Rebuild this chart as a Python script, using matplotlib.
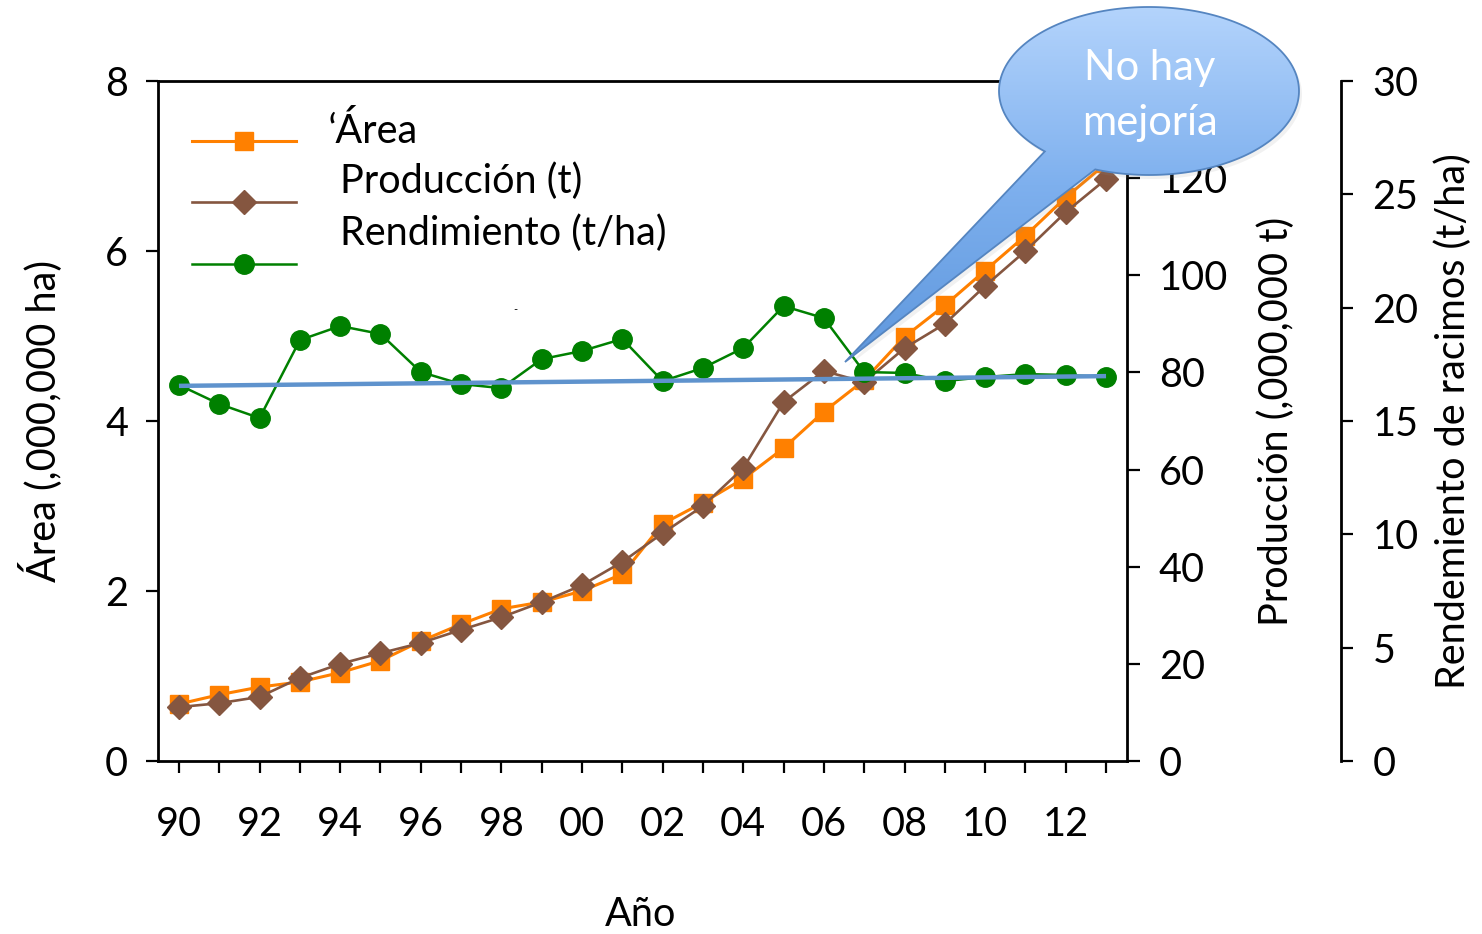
import numpy as np
import matplotlib
matplotlib.use("Agg")
import matplotlib.pyplot as plt
from matplotlib.lines import Line2D
from matplotlib.patches import Polygon
from matplotlib.colors import LinearSegmentedColormap

plt.rcParams['font.family'] = ['Lato', 'DejaVu Sans']

# data (1990-2013)
years = ['90', '91', '92', '93', '94', '95', '96', '97', '98', '99', '00', '01',
         '02', '03', '04', '05', '06', '07', '08', '09', '10', '11', '12', '13']
area = [0.67, 0.78, 0.87, 0.93, 1.04, 1.18, 1.41, 1.61, 1.79, 1.87, 2.00, 2.20,
        2.79, 3.04, 3.32, 3.68, 4.11, 4.48, 4.99, 5.36, 5.77, 6.18, 6.63, 7.03]
production = [11.1, 11.9, 13.2, 17.1, 20.0, 22.2, 24.3, 27.0, 29.6, 32.7, 36.2, 41.0,
              46.9, 52.5, 60.3, 73.9, 80.3, 78.0, 85.0, 90.0, 97.8, 105.0, 113.0, 119.8]
rendimiento = [16.59, 15.75, 15.13, 18.57, 19.19, 18.84, 17.16, 16.63, 16.45, 17.73, 18.09, 18.62,
               16.76, 17.34, 18.22, 20.07, 19.54, 17.16, 17.12, 16.76, 16.94, 17.07, 17.03, 16.94]
trend = [16.55, 16.98]  # trend line, first and last year
prod_ticks = [0, 20, 40, 60, 80, 100, 120, 140]
prod_labels = ['0', '20', '40', '60', '80', '100', '120', '']  # 140 sits under the bubble

W, H = 1482, 934
FS = 28.5
c_area, c_prod, c_rend, c_trend = '#FF8000', '#855640', '#008000', '#5F93CD'

fig = plt.figure(figsize=(W / 100, H / 100), dpi=100)
ax = fig.add_axes([158 / W, 1 - 761 / H, 969 / W, 680 / H])
ax2 = ax.twinx()
ax3 = ax.twinx()
ax3.spines['right'].set_position(('axes', (1341 - 158) / 969))

x = np.arange(len(years))
ax.plot(x, area, color=c_area, lw=2.2, marker='s', ms=13, mec=c_area)
ax2.plot(x, production, color=c_prod, lw=1.9, marker='D', ms=12.5, mec=c_prod)
ax3.plot(x, rendimiento, color=c_rend, lw=1.8, marker='o', ms=14, mec=c_rend)
ax3.plot([x[0], x[-1]], trend, color=c_trend, lw=3.2, solid_capstyle='butt')

ax.set_xlim(-0.52, len(years) - 0.48)
ax.set_ylim(0, 8)
ax2.set_ylim(0, 140)
ax3.set_ylim(0, 30)
ax.set_yticks(np.arange(0, 9, 2))
ax2.set_yticks(prod_ticks)
ax2.set_yticklabels(prod_labels)
ax3.set_yticks(np.arange(0, 31, 5))
ax.set_xticks(x)
ax.set_xticklabels([y if i % 2 == 0 else '' for i, y in enumerate(years)])

for a in (ax, ax2, ax3):
    for s in a.spines.values():
        s.set_linewidth(2)
for a in (ax2, ax3):
    for k in ('top', 'left', 'bottom'):
        a.spines[k].set_visible(False)
ax.spines['right'].set_visible(False)

ax.tick_params(axis='y', direction='out', length=8.6, width=1.6, labelsize=FS, pad=13)
ax.tick_params(axis='x', direction='out', length=8.6, width=1.6, labelsize=FS, pad=24)
ax2.tick_params(axis='y', direction='out', length=9, width=1.6, labelsize=FS, pad=14)
ax3.tick_params(axis='y', direction='out', length=8.6, width=1.6, labelsize=FS, pad=14)

ax.set_ylabel('Área (,000,000 ha)', fontsize=FS)
ax.yaxis.set_label_coords((40 - 158) / 969, 0.5)
ax.yaxis.label.set_va('center')
ax2.set_ylabel('Producción (,000,000 t)', fontsize=FS, rotation=90)
ax2.yaxis.set_label_coords((1276 - 158) / 969, 0.5)
ax2.yaxis.label.set_va('center')
ax3.set_ylabel('Rendemiento de racimos (t/ha)', fontsize=FS, rotation=90)
ax3.yaxis.set_label_coords((1453 - 158) / 969, 0.5)
ax3.yaxis.label.set_va('center')
ax.set_xlabel('Año', fontsize=FS)
ax.xaxis.set_label_coords((641 - 158) / 969, (761 - 915) / 680)
ax.xaxis.label.set_va('center')

# legend keys (labels drawn separately, they sit higher than the keys)
handles = [
    Line2D([], [], color=c_area, lw=2.2, marker='s', ms=13, mec=c_area),
    Line2D([], [], color=c_prod, lw=1.9, marker='D', ms=12.5, mec=c_prod),
    Line2D([], [], color=c_rend, lw=1.8, marker='o', ms=14, mec=c_rend),
]
leg = ax.legend(handles, ['', '', ''], loc='upper left',
                bbox_to_anchor=((192 - 158) / 969, (761 - 133) / 680),
                frameon=False, fontsize=10, handlelength=7.5, handleheight=2.0,
                labelspacing=2.89, borderpad=0, borderaxespad=0, handletextpad=0)

# overlay in pixel coordinates for callout and legend text
ov = fig.add_axes([0, 0, 1, 1])
ov.patch.set_alpha(0)
ov.axis('off')

ov.text(328, 143, 'ʻÁrea', fontsize=FS, va='baseline', ha='left')
ov.text(340, 193, 'Producción (t)', fontsize=FS, va='baseline', ha='left')
ov.text(340, 245, 'Rendimiento (t/ha)', fontsize=FS, va='baseline', ha='left')
ov.text(515, 310, '-', fontsize=8, va='center', ha='center')

# speech bubble
t = np.radians(np.linspace(134, 471, 240))
bx = np.r_[1149 + 150 * np.cos(t), 845]
by = np.r_[91 + 84 * np.sin(t), 362]
pts = np.column_stack([bx, by])
shadow = Polygon(pts + [3, 4], closed=True, fc='#909090', ec='none', alpha=0.12, zorder=1)
ov.add_patch(shadow)
bubble = Polygon(pts, closed=True, fc='none', ec='#5585C0', lw=1.3, zorder=3)
ov.add_patch(bubble)
cmap = LinearSegmentedColormap.from_list('b', ['#B4D4FC', '#7EB0EE', '#5E97DD'])
im = ov.imshow(np.linspace(0, 1, 256).reshape(-1, 1), extent=(830, 1310, 365, 5),
               aspect='auto', cmap=cmap, zorder=2)
im.set_clip_path(bubble)
ov.text(1150, 80, 'No hay', fontsize=30, color='white', ha='center', va='baseline', zorder=4)
ov.text(1150, 135, 'mejoría', fontsize=30, color='white', ha='center', va='baseline', zorder=4)
ov.set_xlim(0, W)
ov.set_ylim(H, 0)

fig.savefig('out.png', dpi=100)
